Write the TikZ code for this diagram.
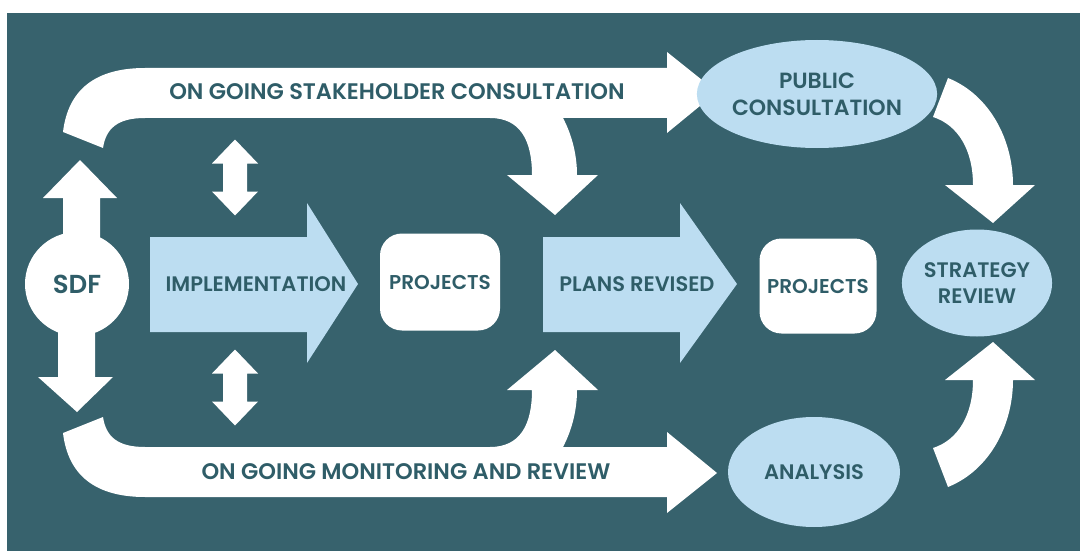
\documentclass[tikz,border=0pt]{standalone}
\usepackage{fontspec}
\setmainfont{Poppins}[BoldFont={* SemiBold}]
\usetikzlibrary{shapes.geometric}
\definecolor{deepteal}{HTML}{37626D}
\definecolor{paleblue}{HTML}{BCDDF1}
\definecolor{inkteal}{HTML}{2F5D68}

\begin{document}
\begin{tikzpicture}[
  x=1pt, y=-1pt,
  font=\bfseries\fontsize{21}{26}\selectfont,
  band/.style={fill=white},
  blockarrow/.style={fill=paleblue},
  lbl/.style={text=inkteal, align=center, inner sep=0pt},
  bandlbl/.style={lbl, font=\bfseries\fontsize{22.5}{26}\selectfont},
  projbox/.style={lbl, fill=white, rounded corners=22pt,
                  minimum width=120pt, minimum height=97pt,
                  font=\bfseries\fontsize{20}{24}\selectfont},
  oval/.style={lbl, ellipse, fill=paleblue},
]
\useasboundingbox (0,0) rectangle (1080,551);
\fill[deepteal] (7,13) rectangle (1080,551);

% ── feedback bands: consultation on top, monitoring mirrored below ──────────
\foreach \flip/\lift in {1/0,-1/565}{
  \begin{scope}[shift={(0,\lift)}, yscale=\flip]
    \fill[band] (63,132) .. controls (68,90) and (95,68) .. (145,68)
      -- (667,68) -- (667,52) -- (717,92) -- (667,133) -- (667,118)
      -- (563,118) .. controls (572,135) and (577,155) .. (577,175)
      -- (598,175) -- (555,215) -- (507,175) -- (532,175)
      .. controls (532,140) and (520,118) .. (490,118)
      -- (145,118) .. controls (118,118) and (106,128) .. (103,148) -- cycle;
    % curved arrow into the strategy review
    \fill[band] (933,117) -- (948,78) .. controls (990,95) and (1013,140) .. (1013,185)
      -- (1035,185) -- (993,223) -- (945,185) -- (973,185)
      .. controls (973,150) and (958,125) .. (933,117) -- cycle;
  \end{scope}
}

% two-way links between the bands and the implementation row
\foreach \ymid in {177.5,387.5}{
  \fill[band, shift={(235,\ymid)}] (0,-38) -- (23,-14) -- (12,-14) -- (12,14)
    -- (23,14) -- (0,38) -- (-23,14) -- (-12,14) -- (-12,-14) -- (-23,-14) -- cycle;
}

% ── SDF hub ─────────────────────────────────────────────────────────────────
\fill[band] (63,240) -- (63,198) -- (43,198) -- (80,160) -- (117,198)
  -- (100,198) -- (100,240) -- cycle;
\fill[band] (58,325) -- (58,377) -- (38,377) -- (77,412) -- (113,377)
  -- (95,377) -- (95,325) -- cycle;
\node[lbl, circle, fill=white, minimum size=104pt,
      font=\bfseries\fontsize{26}{30}\selectfont] (sdf) at (77,284) {SDF};

% ── main row ────────────────────────────────────────────────────────────────
\fill[blockarrow] (150,237) -- (307,237) -- (307,203) -- (358,284)
  -- (307,363) -- (307,332) -- (150,332) -- cycle;
\node[lbl] (impl) at (256,284) {IMPLEMENTATION};
\node[projbox] (projA) at (440,282) {PROJECTS};

\fill[blockarrow] (543,237) -- (680,237) -- (680,203) -- (737,284)
  -- (680,363) -- (680,332) -- (543,332) -- cycle;
\node[lbl] (plans) at (637,284) {PLANS REVISED};
\node[projbox, minimum width=117pt, minimum height=95pt] (projB) at (818,286) {PROJECTS};

% ── right column ────────────────────────────────────────────────────────────
\node[oval, minimum width=170pt, minimum height=108pt,
      font=\bfseries\fontsize{22}{27}\selectfont] (pubcons) at (817,94)
  {PUBLIC\\CONSULTATION};
\node[oval, minimum width=150pt, minimum height=107pt] (strat) at (977,283)
  {STRATEGY\\REVIEW};
\node[oval, minimum width=172pt, minimum height=110pt] (analysis) at (814,472)
  {ANALYSIS};

% band labels
\node[bandlbl] (stake) at (397,92) {ON GOING STAKEHOLDER CONSULTATION};
\node[bandlbl] (monit) at (406,472) {ON GOING MONITORING AND REVIEW};
\end{tikzpicture}
\end{document}
